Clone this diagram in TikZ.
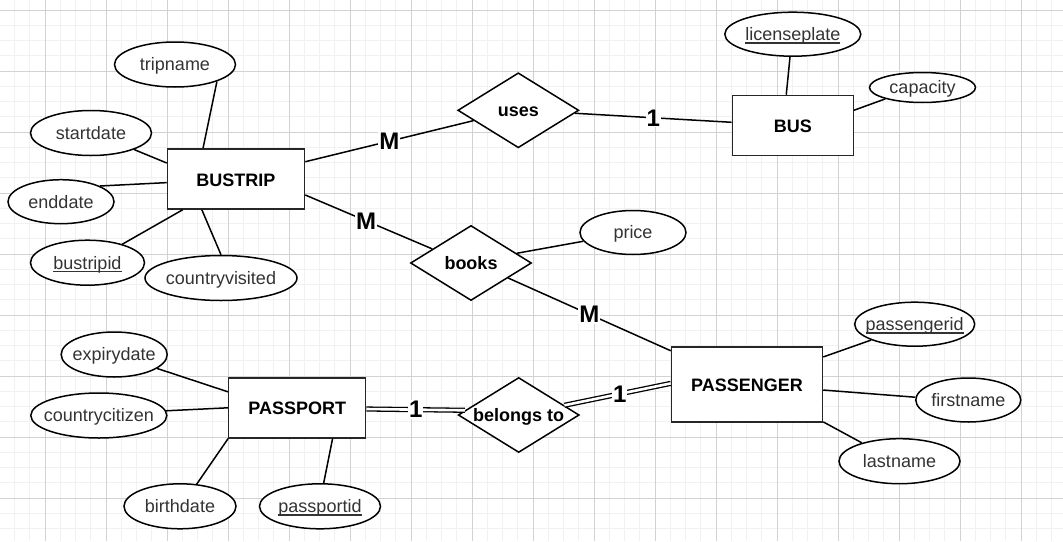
\documentclass[tikz,border=0pt]{standalone}
\usepackage{fontspec}
\setmainfont{Liberation Sans}
\usetikzlibrary{shapes.geometric}
\definecolor{gridmajor}{HTML}{D2D2D2}
\definecolor{gridminor}{HTML}{F1F1F1}
\definecolor{attrtext}{HTML}{333333}
\newcommand{\attrfont}{\fontsize{18}{20}\selectfont}
\newcommand{\entfont}{\fontsize{18}{20}\selectfont\bfseries}
\newcommand{\cardfont}{\fontsize{24}{26}\selectfont\bfseries}
\newcommand{\keyattr}[1]{\setbox0=\hbox{#1}\rlap{\vrule height -1.6pt depth 2.9pt width \wd0}\box0}
\newcommand{\at}[1]{\makebox[0pt]{#1}}
\newcommand{\ak}[1]{\makebox[0pt]{\keyattr{#1}}}
\tikzset{
  ent/.style={rectangle, draw=black!85, line width=1.5pt, fill=white, inner sep=0pt, font=\entfont, text height=14pt, text depth=0pt},
  attr/.style={ellipse, draw=black, line width=1.5pt, fill=white, inner sep=0pt, font=\attrfont, text=attrtext, text height=12.8pt, text depth=0pt},
  rel/.style={diamond, draw=black, line width=1.5pt, fill=white, inner sep=0pt, aspect=1.6, minimum width=121pt, minimum height=75pt, font=\entfont, text height=12pt, text depth=0pt},
  card/.style={fill=white, inner sep=1pt, font=\cardfont},
  conn/.style={line width=1.5pt},
  dbl/.style={double=white, draw=black, double distance=2.6pt, line width=1.3pt},
  majorline/.style={gridmajor, line width=1pt},
  minorline/.style={gridminor, line width=1pt}
}
\begin{document}
\begin{tikzpicture}[x=1pt, y=-1pt]
\fill[white] (0,0) rectangle (1063,541);
\useasboundingbox (0,0) rectangle (1063,541);
% grid
\foreach \k in {0,...,68} {\draw[minorline] ({14.5+15.25*\k},0) -- ({14.5+15.25*\k},541);}
\foreach \k in {0,...,34} {\draw[minorline] (0,{10+15.25*\k}) -- (1063,{10+15.25*\k});}
\foreach \k in {0,...,16} {\draw[majorline] ({45+61*\k},0) -- ({45+61*\k},541);}
\foreach \k in {0,...,8} {\draw[majorline] (0,{10+61*\k}) -- (1063,{10+61*\k});}

% entities
\node[ent, minimum width=137pt, minimum height=60pt] (bustrip) at (236,179) {BUSTRIP};
\node[ent, minimum width=121pt, minimum height=60pt] (bus) at (792.8,125.5) {BUS};
\node[ent, minimum width=151pt, minimum height=75pt] (passenger) at (747,384.7) {PASSENGER};
\node[ent, minimum width=137pt, minimum height=60pt] (passport) at (297.2,407.8) {PASSPORT};

% relationships
\node[rel] (uses) at (518.3,110.3) {uses};
\node[rel] (books) at (471,263) {books};
\node[rel] (belongs) at (518.7,415) {belongs to};

% attributes
\node[attr, minimum width=121pt, minimum height=45pt] (tripname) at (175,64.5) {\at{tripname}};
\node[attr, minimum width=121pt, minimum height=45pt] (startdate) at (91,133) {\at{startdate}};
\node[attr, minimum width=106pt, minimum height=44pt] (enddate) at (61,201.7) {\at{enddate}};
\node[attr, minimum width=114pt, minimum height=45pt] (bustripid) at (87.5,262.7) {\ak{bustripid}};
\node[attr, minimum width=152pt, minimum height=45pt] (countryvisited) at (221,278) {\at{countryvisited}};
\node[attr, minimum width=136pt, minimum height=44pt] (licenseplate) at (792.8,34.2) {\ak{licenseplate}};
\node[attr, minimum width=106pt, minimum height=30pt] (capacity) at (922.5,87.5) {\at{capacity}};
\node[attr, minimum width=106pt, minimum height=44pt] (price) at (633,232.5) {\at{price}};
\node[attr, minimum width=120pt, minimum height=44pt] (passengerid) at (914.7,324.2) {\ak{passengerid}};
\node[attr, minimum width=105pt, minimum height=44pt] (firstname) at (968.3,400) {\at{firstname}};
\node[attr, minimum width=121pt, minimum height=45pt] (lastname) at (899.5,461.2) {\at{lastname}};
\node[attr, minimum width=106pt, minimum height=45pt] (expirydate) at (114.2,354.5) {\at{expirydate}};
\node[attr, minimum width=136pt, minimum height=45pt] (countrycitizen) at (98.8,415.5) {\at{countrycitizen}};
\node[attr, minimum width=112pt, minimum height=45pt] (birthdate) at (180,506.3) {\at{birthdate}};
\node[attr, minimum width=121pt, minimum height=45pt] (passportid) at (320,506.3) {\ak{passportid}};

% attribute connectors
\draw[conn] (tripname.-22.6) -- (bustrip.137.6);
\draw[conn] (startdate.-21.1) -- (bustrip.167.1);
\draw[conn] (enddate.22.3) -- (bustrip.183.1);
\draw[conn] (bustripid.28) -- (bustrip.210.2);
\draw[conn] (countryvisited.90.7) -- (bustrip.222.4);
\draw[conn] (licenseplate.263) -- (bus.102.6);
\draw[conn] (capacity.197.8) -- (bus.14.2);
\draw[conn] (books.12.3) -- (price.190);
\draw[conn] (passengerid.200) -- (passenger.20.1);
\draw[conn] (firstname.177.1) -- (passenger.-4);
\draw[conn] (lastname.154.1) -- (passenger.-26.3);
\draw[conn] (expirydate.-18.6) -- (passport.167.1);
\draw[conn] (countrycitizen.4) -- (passport.180);
\draw[conn] (birthdate.53.2) -- (passport.204);
\draw[conn] (passportid.81.6) -- (passport.-41.5);

% relationship connectors
\draw[conn] (bustrip.14.1) -- node[card, pos=0.5] (c1) {M} (uses.193.4);
\draw[conn] (uses.-3) -- node[card, pos=0.5] (c2) {1} (bus.177);
\draw[conn] (bustrip.-13.1) -- node[card, pos=0.48] (c3) {M} (books.160.3);
\draw[conn] (books.-22.9) -- node[card, pos=0.5] (c4) {M} (passenger.156.2);
\draw[dbl] (passport.-1) -- node[card, pos=0.5] (c5) {1} (belongs.175.8);
\draw[dbl] (belongs.12.2) -- node[card, pos=0.52] (c6) {1} (passenger.179.2);
\end{tikzpicture}
\end{document}
